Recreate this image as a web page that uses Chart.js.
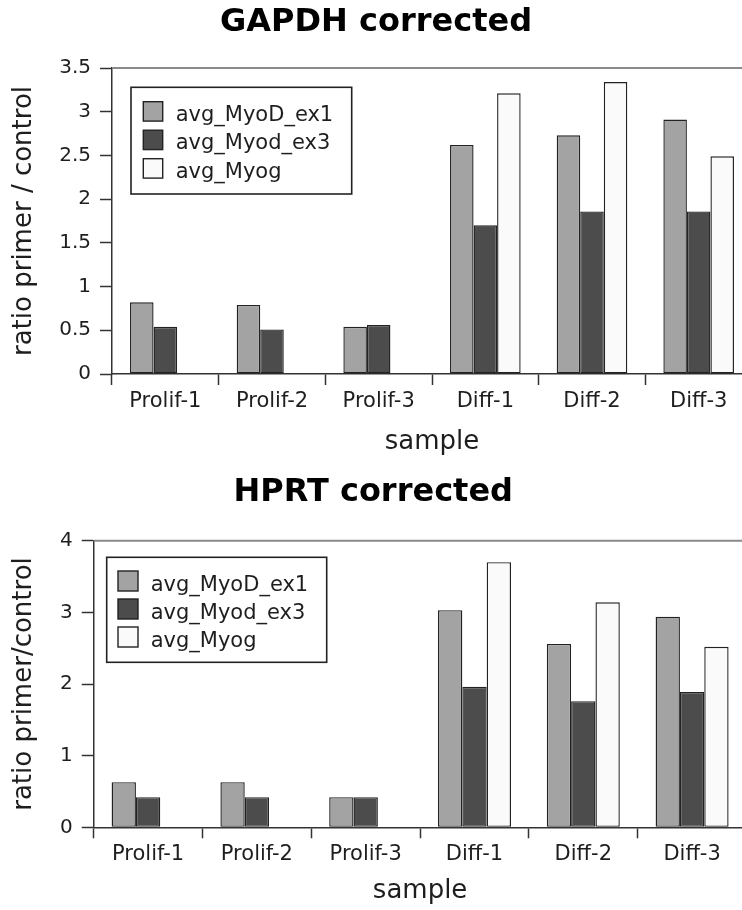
<!DOCTYPE html>
<html>
<head>
<meta charset="utf-8">
<script src="https://cdn.jsdelivr.net/npm/chart.js@4.4.0/dist/chart.umd.min.js"></script>
<style>
  html, body { margin: 0; padding: 0; background: #fff; overflow: hidden; width: 742px; height: 910px; }
  .wrap { position: absolute; left: 0; width: 752px; }
  #w1 { top: 0; height: 460px; }
  #w2 { top: 460px; height: 450px; }
  canvas { display: block; }
</style>
</head>
<body>
<div class="wrap" id="w1"><canvas id="c1" width="752" height="460"></canvas></div>
<div class="wrap" id="w2"><canvas id="c2" width="752" height="450"></canvas></div>
<script>
// Samples and primer series
const samples = ['Prolif-1', 'Prolif-2', 'Prolif-3', 'Diff-1', 'Diff-2', 'Diff-3'];
const seriesNames = ['avg_MyoD_ex1', 'avg_Myod_ex3', 'avg_Myog'];
const seriesColors = ['#a3a3a3', '#4c4c4c', '#fafafa'];

// GAPDH-normalised ratios
const gapdhMyoDex1 = [0.82, 0.79, 0.54, 2.62, 2.73, 2.91];
const gapdhMyodex3 = [0.54, 0.51, 0.56, 1.70, 1.86, 1.86];
const gapdhMyog    = [0, 0, 0, 3.21, 3.34, 2.49];

// HPRT-normalised ratios
const hprtMyoDex1 = [0.63, 0.63, 0.42, 3.03, 2.56, 2.94];
const hprtMyodex3 = [0.42, 0.42, 0.42, 1.96, 1.76, 1.89];
const hprtMyog    = [0, 0, 0, 3.70, 3.14, 2.52];

// Value-axis ticks
const gapdhTicks = [0, 0.5, 1, 1.5, 2, 2.5, 3, 3.5];
const hprtTicks  = [0, 1, 2, 3, 4];

const FONT = "'DejaVu Sans', 'Liberation Sans', sans-serif";
const INK = '#1e1e1e';
const AXIS = '#333333';

// Grey frame line along the top of the plot and a boxed legend inside it
const decor = {
  id: 'decor',
  afterDraw(chart, args, o) {
    const ctx = chart.ctx;
    const a = chart.chartArea;
    ctx.save();
    ctx.strokeStyle = '#8a8a8a';
    ctx.lineWidth = 2;
    ctx.beginPath();
    ctx.moveTo(a.left, a.top);
    ctx.lineTo(a.right + 20, a.top);
    ctx.stroke();

    const L = o.legend;
    const bx = a.left + L.dx, by = a.top + L.dy;
    ctx.fillStyle = '#ffffff';
    ctx.fillRect(bx, by, L.w, L.h);
    ctx.strokeStyle = '#222';
    ctx.lineWidth = 1.6;
    ctx.strokeRect(bx, by, L.w, L.h);
    ctx.font = L.size + 'px ' + FONT;
    ctx.textAlign = 'left';
    ctx.textBaseline = 'alphabetic';
    chart.data.datasets.forEach((ds, i) => {
      const sx = bx + L.padLeft, sy = by + L.padTop + i * L.pitch;
      ctx.fillStyle = ds.backgroundColor;
      ctx.fillRect(sx, sy, L.sw, L.sw);
      ctx.strokeStyle = '#222';
      ctx.lineWidth = 1.4;
      ctx.strokeRect(sx, sy, L.sw, L.sw);
      ctx.fillStyle = INK;
      ctx.fillText(ds.label, bx + L.textX, sy + L.sw - 0.5);
    });
    ctx.restore();
  }
};

function makeChart(id, cfg) {
  return new Chart(document.getElementById(id), {
    type: 'bar',
    data: {
      labels: samples,
      datasets: cfg.series.map((vals, i) => ({
        label: seriesNames[i],
        data: vals,
        backgroundColor: seriesColors[i],
        borderColor: '#222222',
        borderWidth: 1.4,
        borderSkipped: false,
        categoryPercentage: cfg.catPct,
        barPercentage: 1.0
      }))
    },
    options: {
      responsive: false,
      animation: false,
      events: [],
      layout: { padding: { left: 0, right: cfg.padRight, top: 0, bottom: 0 } },
      plugins: {
        legend: { display: false },
        tooltip: { enabled: false },
        title: {
          display: true,
          text: cfg.title,
          color: '#000',
          font: { family: FONT, size: 32, weight: 'bold', lineHeight: 1.2 },
          padding: { top: cfg.titleTop, bottom: cfg.titleBottom }
        },
        decor: { legend: cfg.legend }
      },
      scales: {
        x: {
          type: 'category',
          offset: true,
          afterFit: s => { s.height = cfg.xHeight; },
          grid: { display: true, offset: true, drawOnChartArea: false, drawTicks: true, tickLength: 11, tickColor: AXIS, tickWidth: 1.5 },
          border: { display: true, color: AXIS, width: 1.5 },
          ticks: { color: INK, font: { family: FONT, size: 21 }, padding: 4, maxRotation: 0, autoSkip: false },
          title: {
            display: true,
            text: 'sample',
            color: INK,
            font: { family: FONT, size: 26, lineHeight: 1.2 },
            padding: { top: 0, bottom: cfg.xTitlePad }
          }
        },
        y: {
          min: cfg.ticks[0],
          max: cfg.ticks[cfg.ticks.length - 1],
          afterFit: s => { s.width = cfg.yWidth; },
          afterBuildTicks: s => { s.ticks = cfg.ticks.map(v => ({ value: v })); },
          grid: { display: true, drawOnChartArea: false, drawTicks: true, tickLength: 12, tickColor: AXIS, tickWidth: 1.5 },
          border: { display: true, color: AXIS, width: 1.5 },
          ticks: { color: INK, font: { family: FONT, size: 20 }, padding: 9, callback: v => String(v) },
          title: {
            display: true,
            text: cfg.yTitleText,
            color: INK,
            font: { family: FONT, size: 26, lineHeight: 1.2 },
            padding: { top: 8.7, bottom: 0 }
          }
        }
      }
    },
    plugins: [decor]
  });
}

makeChart('c1', {
  title: 'GAPDH corrected',
  series: [gapdhMyoDex1, gapdhMyodex3, gapdhMyog],
  ticks: gapdhTicks,
  catPct: 0.662,
  padRight: 0,
  titleTop: 3.3,
  titleBottom: 26.3,
  xHeight: 86,
  xTitlePad: 1.7,
  yWidth: 112,
  yTitleText: 'ratio primer / control',
  legend: { dx: 19, dy: 19.3, w: 220.7, h: 106.7, padLeft: 12.3, padTop: 14.4, sw: 19.4, pitch: 28.5, textX: 44.7, size: 21 }
});

makeChart('c2', {
  title: 'HPRT corrected',
  series: [hprtMyoDex1, hprtMyodex3, hprtMyog],
  ticks: hprtTicks,
  catPct: 0.671,
  padRight: 5.5,
  titleTop: 13.3,
  titleBottom: 29,
  xHeight: 82.7,
  xTitlePad: 3.4,
  yWidth: 93.7,
  yTitleText: 'ratio primer/control',
  legend: { dx: 13, dy: 16.6, w: 220, h: 105, padLeft: 11.3, padTop: 13.7, sw: 20, pitch: 28, textX: 44, size: 21 }
});
</script>
</body>
</html>
